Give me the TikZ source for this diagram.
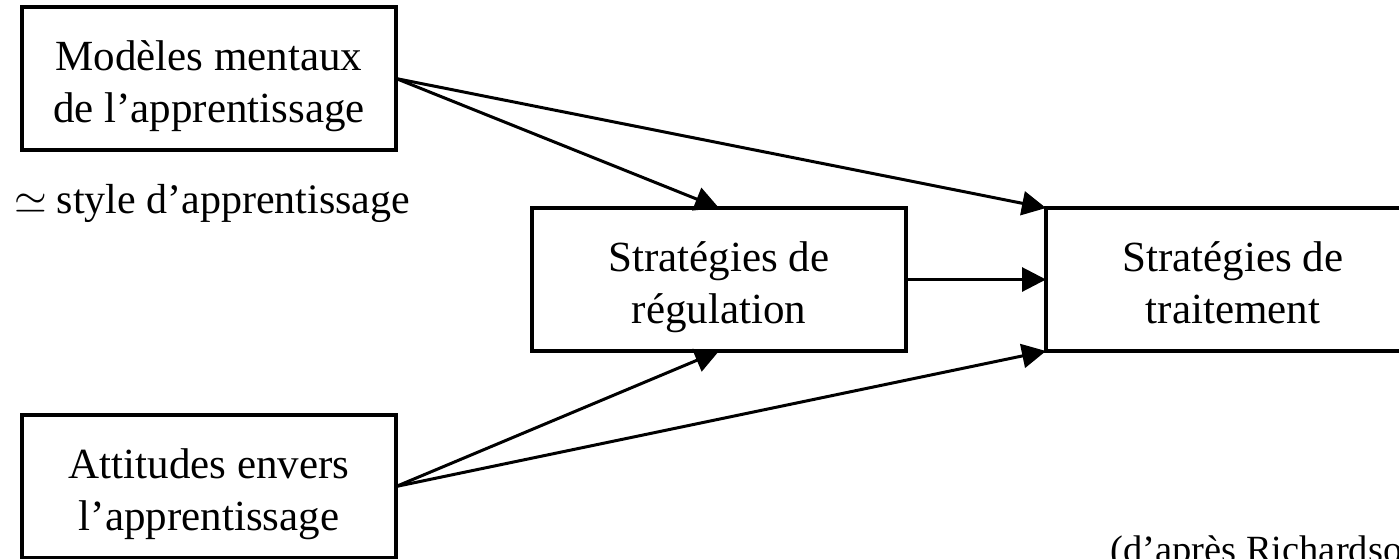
\documentclass[tikz,border=0pt]{standalone}
\usepackage{fix-cm}
\usepackage{fontspec}
\setmainfont{Liberation Serif}
\usepackage{tikz}
\usetikzlibrary{arrows.meta,positioning}

\begin{document}
\begin{tikzpicture}[x=1pt,y=1pt,->,>={Triangle[length=24pt,width=24pt]},
line width=3pt,font=\fontsize{43}{52}\selectfont]
\tikzstyle{box}=[draw=black,line width=4.5pt,minimum width=374pt,
minimum height=143pt,align=center,inner sep=0pt,outer sep=0pt,
text height=88pt,text depth=0pt]
\clip (0,0) rectangle (1399,-558);
\node[box] (1) at (209,-78.5) {Modèles mentaux\\de l’apprentissage};
\node[box] (2) [below right=58pt and 136pt of 1] {Stratégies de\\régulation};
\node[box] (3) [right=140pt of 2] {Stratégies de\\traitement};
\node[box] (4) [below=265pt of 1] {Attitudes envers\\l’apprentissage};
\node[anchor=base west,inner sep=0pt,font=\fontsize{42}{52}\selectfont] (5)
  at ([xshift=-9pt,yshift=-63pt]1.south west)
  {$\simeq$\hspace{-1pt} style d’apprentissage};
\node[anchor=base west,inner sep=0pt,font=\fontsize{38.5}{46}\selectfont] (6)
  at ([xshift=63pt,yshift=-211pt]3.south west) {(d’après Richardson};
\path (1.east) edge (2.north)
               edge (3.north west)
      (2) edge (3)
      (4.east) edge (2.south)
               edge (3.south west);
\end{tikzpicture}
\end{document}
